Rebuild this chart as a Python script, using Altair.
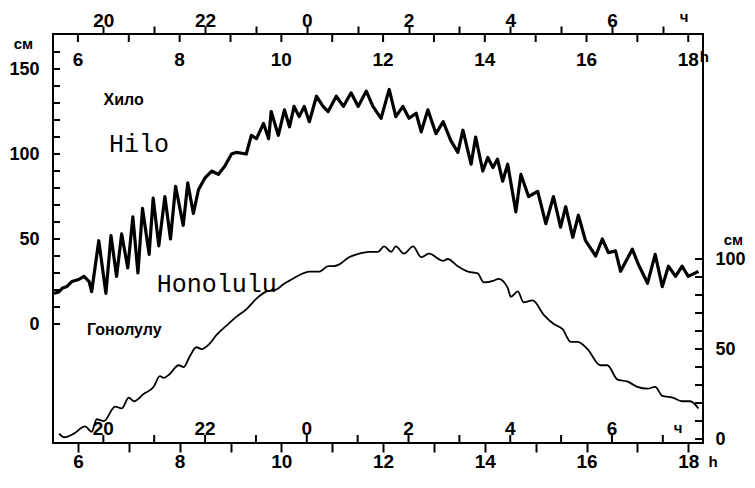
import altair as alt
import pandas as pd

# ---- data (time in hours UT, level in cm) ----
hilo_t = [5.53, 5.63, 5.69, 5.78, 5.88, 6.00, 6.12, 6.22, 6.27, 6.41, 6.55, 6.65, 6.76, 6.86, 6.98,
          7.08, 7.18, 7.27, 7.40, 7.48, 7.59, 7.71, 7.82, 7.92, 8.07, 8.16, 8.27, 8.37, 8.50, 8.63,
          8.76, 8.89, 9.02, 9.12, 9.31, 9.41, 9.51, 9.65, 9.75, 9.80, 9.94, 10.06, 10.16, 10.25, 10.35,
          10.45, 10.55, 10.69, 10.82, 10.92, 11.08, 11.22, 11.37, 11.51, 11.67, 11.80, 11.96, 12.12, 12.25, 12.39,
          12.51, 12.65, 12.75, 12.88, 13.04, 13.18, 13.33, 13.47, 13.57, 13.73, 13.82, 13.96, 14.06, 14.16, 14.25,
          14.35, 14.45, 14.61, 14.71, 14.86, 15.04, 15.20, 15.35, 15.49, 15.59, 15.73, 15.84, 15.98, 16.18, 16.31,
          16.43, 16.57, 16.67, 16.90, 17.02, 17.20, 17.35, 17.49, 17.61, 17.75, 17.88, 18.00, 18.20]
hilo_cm = [18, 19, 21, 22, 25, 26, 28, 25, 19, 49, 18, 52, 28, 53, 33,
           63, 30, 68, 41, 74, 46, 75, 50, 81, 58, 83, 65, 79, 86, 90,
           88, 93, 100, 101, 100, 111, 109, 118, 109, 125, 111, 126, 116, 128, 122,
           128, 119, 134, 128, 125, 134, 128, 136, 128, 137, 128, 121, 138, 122, 128,
           121, 124, 113, 126, 112, 119, 108, 101, 114, 94, 110, 90, 98, 92, 97,
           84, 94, 66, 88, 75, 78, 59, 75, 57, 69, 51, 64, 49, 40, 50,
           42, 43, 31, 44, 35, 24, 41, 22, 34, 28, 34, 28, 31]

hono_t = [5.63, 5.73, 5.92, 6.14, 6.27, 6.37, 6.51, 6.73, 6.86, 7.00, 7.10, 7.29, 7.49, 7.61, 7.69,
          7.80, 7.98, 8.08, 8.20, 8.33, 8.43, 8.59, 8.73, 8.92, 9.12, 9.31, 9.51, 9.71, 9.90, 10.04,
          10.16, 10.35, 10.55, 10.75, 10.92, 11.02, 11.14, 11.33, 11.53, 11.73, 11.90, 12.02, 12.16, 12.25, 12.41,
          12.59, 12.75, 12.90, 13.18, 13.27, 13.47, 13.67, 13.86, 13.98, 14.18, 14.27, 14.45, 14.51, 14.65, 14.76,
          14.94, 15.16, 15.35, 15.53, 15.69, 15.82, 16.02, 16.27, 16.41, 16.61, 16.80, 17.00, 17.20, 17.35, 17.49,
          17.69, 17.88, 18.04, 18.20]
hono_cm = [3, 1, 3, 7, 4, 11, 10, 18, 17, 23, 21, 25, 29, 35, 34,
           36, 41, 40, 46, 51, 50, 53, 58, 63, 68, 72, 78, 82, 83, 86,
           88, 91, 93, 93, 96, 96, 97, 101, 103, 104, 104, 107, 104, 107, 103,
           107, 101, 103, 99, 100, 96, 93, 92, 87, 88, 89, 84, 79, 82, 76,
           77, 69, 64, 61, 54, 54, 50, 41, 41, 33, 32, 29, 28, 29, 24,
           23, 21, 21, 17]

# ---- axes / tick labels ----
ut_ticks = [6, 7, 8, 9, 10, 11, 12, 13, 14, 15, 16, 17, 18]
ut_major = [6, 8, 10, 12, 14, 16, 18]
ut_major_labels = ["6", "8", "10", "12", "14", "16", "18"]
local_ticks = [6.5, 7.5, 8.5, 9.5, 10.5, 11.5, 12.5, 13.5, 14.5, 15.5, 16.5, 17.5]
local_major = [6.5, 8.5, 10.5, 12.5, 14.5, 16.5]
local_major_labels = ["20", "22", "0", "2", "4", "6"]
left_ticks = [0, 10, 20, 30, 40, 50, 60, 70, 80, 90, 100, 110, 120, 130, 140, 150, 160]
left_labels = [0, 50, 100, 150]
right_ticks = [0, 10, 20, 30, 40, 50, 60, 70, 80, 90, 100]
right_labels = [0, 50, 100]

# annotation texts
ann_text = ["Хило", "Hilo", "Honolulu", "Гонолулу"]
ann_t = [6.90, 6.61, 7.55, 6.18]
ann_cm = [132, 106, 23.5, -3.5]

W, H = 650, 409
X_DOM = [5.51, 18.29]
YL_DOM = [-70, 170.6]
YR_DOM = [-2.2, 225]

NUM_FONT = "Liberation Sans, Arial, sans-serif"
TXT_FONT = "Liberation Sans, Arial, sans-serif"
MONO_FONT = "Courier New, Courier, Nimbus Mono PS, FreeMono, Liberation Mono, monospace"


def xs():
    return alt.Scale(domain=X_DOM, nice=False, zero=False)


def yl():
    return alt.Scale(domain=YL_DOM, nice=False, zero=False)


def yr():
    return alt.Scale(domain=YR_DOM, nice=False, zero=False)


xlab = dict(labelFont=NUM_FONT, labelFontSize=19, labelFontWeight="bold", labelColor="black",
            labelOverlap=False, labelFlush=False, grid=False, domain=False)
ylab = dict(labelFont=NUM_FONT, labelFontSize=18, labelFontWeight="bold", labelColor="black",
            labelOverlap=False, labelFlush=False, grid=False, domain=False)

hilo_df = pd.DataFrame({"t": hilo_t, "v": hilo_cm})
hono_df = pd.DataFrame({"t": hono_t, "v": hono_cm})

hilo = alt.Chart(hilo_df).mark_line(color="black", strokeWidth=3.2, strokeJoin="round").encode(
    x=alt.X("t:Q", scale=xs(), axis=alt.Axis(
        orient="bottom", values=ut_ticks, tickSize=9, tickWidth=2, tickColor="black",
        labelExpr="datum.value % 2 == 0 ? format(datum.value, 'd') : ''",
        labelPadding=15, labelBaseline="alphabetic", title=None, **xlab)),
    y=alt.Y("v:Q", scale=yl(), axis=alt.Axis(
        orient="left", values=left_labels, tickSize=0, labelPadding=14,
        title="см", titleAngle=0, titleX=-30, titleY=9, titleAlign="center", titleBaseline="middle",
        titleFont=TXT_FONT, titleFontSize=15, titleFontWeight="bold", titleColor="black", **ylab)),
)

hono = alt.Chart(hono_df).mark_line(color="black", strokeWidth=1.8, interpolate="monotone").encode(
    x=alt.X("t:Q", scale=xs(), axis=alt.Axis(
        orient="top", values=local_ticks, tickSize=8, tickWidth=2, tickColor="black",
        labelExpr="((datum.value + 13.5) % 24) % 2 == 0 ? format((datum.value + 13.5) % 24, 'd') : ''",
        labelPadding=0, labelBaseline="alphabetic", title=None, **xlab)),
    y=alt.Y("v:Q", scale=yr(), axis=alt.Axis(
        orient="right", values=right_labels, tickSize=0, labelPadding=12,
        title="см", titleAngle=0, titleX=30, titleY=205, titleAlign="center", titleBaseline="middle",
        titleFont=TXT_FONT, titleFontSize=15, titleFontWeight="bold", titleColor="black", **ylab)),
)

# inner ticks
lt = alt.Chart(pd.DataFrame({"v": left_ticks})).mark_rule(color="black", strokeWidth=2).encode(
    y=alt.Y("v:Q", scale=yl(), axis=None), x=alt.value(0), x2=alt.value(7))
rt = alt.Chart(pd.DataFrame({"v": right_ticks})).mark_rule(color="black", strokeWidth=2).encode(
    y=alt.Y("v:Q", scale=yr(), axis=None), x=alt.value(W - 8), x2=alt.value(W))
tt = alt.Chart(pd.DataFrame({"t": ut_ticks})).mark_rule(color="black", strokeWidth=2).encode(
    x=alt.X("t:Q", scale=xs(), axis=None), y=alt.value(0), y2=alt.value(8))
bt = alt.Chart(pd.DataFrame({"t": local_ticks})).mark_rule(color="black", strokeWidth=2).encode(
    x=alt.X("t:Q", scale=xs(), axis=None), y=alt.value(H - 8), y2=alt.value(H))

# inner labels
tl = alt.Chart(pd.DataFrame({"t": ut_major, "s": ut_major_labels})).mark_text(
    font=NUM_FONT, fontSize=19, fontWeight="bold", baseline="alphabetic", align="center", color="black").encode(
    x=alt.X("t:Q", scale=xs(), axis=None), y=alt.value(32), text="s:N")
bl = alt.Chart(pd.DataFrame({"t": local_major, "s": local_major_labels})).mark_text(
    font=NUM_FONT, fontSize=19, fontWeight="bold", baseline="alphabetic", align="center", color="black").encode(
    x=alt.X("t:Q", scale=xs(), axis=None), y=alt.value(H - 8), text="s:N")

unit_df = pd.DataFrame({"t": [18.225, 18.4], "s": ["h", "h"], "yy": [28, H + 24]})
units_h = alt.Chart(unit_df).mark_text(
    font=NUM_FONT, fontSize=15, fontWeight="bold", baseline="alphabetic", align="left", color="black").encode(
    x=alt.X("t:Q", scale=xs(), axis=None), y=alt.Y("yy:Q", scale=None), text="s:N")
ch_df = pd.DataFrame({"t": [17.92, 17.8], "s": ["ч", "ч"], "yy": [-12, H - 10]})
units_ch = alt.Chart(ch_df).mark_text(
    font=TXT_FONT, fontSize=15, fontWeight="bold", baseline="alphabetic", align="center", color="black").encode(
    x=alt.X("t:Q", scale=xs(), axis=None), y=alt.Y("yy:Q", scale=None), text="s:N")

ann_df = pd.DataFrame({"t": ann_t, "v": ann_cm, "s": ann_text})
a_ru1 = alt.Chart(ann_df.iloc[[0]]).mark_text(
    font=TXT_FONT, fontSize=16, fontWeight="bold", align="center", baseline="middle", color="black").encode(
    x=alt.X("t:Q", scale=xs(), axis=None), y=alt.Y("v:Q", scale=yl(), axis=None), text="s:N")
a_ru2 = alt.Chart(ann_df.iloc[[3]]).mark_text(
    font=TXT_FONT, fontSize=16, fontWeight="bold", align="left", baseline="middle", color="black").encode(
    x=alt.X("t:Q", scale=xs(), axis=None), y=alt.Y("v:Q", scale=yl(), axis=None), text="s:N")
a_en = alt.Chart(ann_df.iloc[[1, 2]]).mark_text(
    font=MONO_FONT, fontSize=25, align="left", baseline="middle", color="black").encode(
    x=alt.X("t:Q", scale=xs(), axis=None), y=alt.Y("v:Q", scale=yl(), axis=None), text="s:N")

chart = alt.layer(hilo, hono, lt, rt, tt, bt, tl, bl, units_h, units_ch, a_ru1, a_ru2, a_en).resolve_scale(
    x="independent", y="independent"
).properties(
    width=W, height=H,
    autosize=alt.AutoSizeParams(type="none"),
    padding={"left": 45, "top": 26, "right": 44, "bottom": 27},
    background="white",
).configure_view(stroke="black", strokeWidth=2)

chart.save("out.html", embed_options={"renderer": "svg", "actions": False})
